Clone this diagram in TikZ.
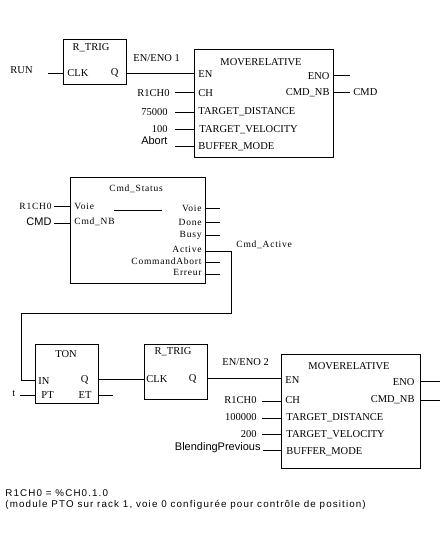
\documentclass[tikz,border=0pt]{standalone}
\usepackage{fontspec}
\setmainfont{Liberation Serif}
\newfontfamily\sansf{Liberation Sans}
\newfontfamily\smallf[LetterSpace=8]{Liberation Serif}
\newfontfamily\footf[LetterSpace=11.5]{Liberation Sans}
\begin{document}
\begin{tikzpicture}[x=1pt,y=-1pt,line width=0.9pt,
  blk/.style={draw,line width=0.9pt,anchor=north west,inner sep=0pt},
  pl/.style={font=\fontsize{10.5}{11}\selectfont,inner sep=0pt,anchor=west},
  pr/.style={font=\fontsize{10.5}{11}\selectfont,inner sep=0pt,anchor=east},
  pt/.style={font=\fontsize{10.5}{11}\selectfont,inner sep=0pt},
  sl/.style={font=\smallf\fontsize{9.5}{10}\selectfont,inner sep=0pt,anchor=west},
  sr/.style={font=\smallf\fontsize{9.5}{10}\selectfont,inner sep=0pt,anchor=east},
  sansr/.style={font=\sansf\fontsize{11}{12}\selectfont,inner sep=0pt,anchor=east},
  wire/.style={line width=0.9pt},
  foot/.style={font=\footf\fontsize{9.8}{11}\selectfont,inner sep=0pt,anchor=west}]
\useasboundingbox (0,0) rectangle (440,533);
% ---------- R_TRIG 1 ----------
\node[blk,minimum width=63pt,minimum height=45pt] (rt1) at (63,39) {};
\node[pt] (rt1t) at (91,48) {R\_TRIG};
\node[pl] (rt1clk) at (67,73) {CLK};
\node[pr] (rt1q) at (119,73) {Q};
\node[pl] (run) at (10,70) {RUN};
\coordinate (rt1in) at (63,73);
\coordinate (runend) at (48,73);
\draw[wire] (runend) -- (rt1in);
% ---------- MOVERELATIVE 1 ----------
\node[blk,minimum width=139pt,minimum height=108pt] (mr1) at (194,49) {};
\node[pt] (mr1t) at (261,62) {MOVERELATIVE};
\node[pl] (mr1en) at (198,74) {EN};
\node[pl] (mr1ch) at (198,93) {CH};
\node[pl] (mr1td) at (198,112) {TARGET\_DISTANCE};
\node[pl] (mr1tv) at (199,130) {TARGET\_VELOCITY};
\node[pl] (mr1bm) at (198,147) {BUFFER\_MODE};
\node[pr] (mr1eno) at (330,76) {ENO};
\node[pr] (mr1cmd) at (330,93) {CMD\_NB};
\coordinate (mr1a) at (194,73);
\coordinate (mr1b) at (194,92);
\coordinate (mr1c) at (194,112);
\coordinate (mr1d) at (194,129);
\coordinate (mr1e) at (194,146);
\coordinate (rt1out) at (126,73);
\draw[wire] (rt1out) -- (mr1a);
\node[pl] (en1) at (133,58) {EN/ENO 1};
\node[pr] (l1a) at (170,93) {R1CH0};
\node[pr] (l1b) at (168,112) {75000};
\node[pr] (l1c) at (168,129) {100};
\node[sansr] (l1d) at (168,141) {Abort};
\foreach \y/\c in {92/b,112/c,129/d,146/e} {\coordinate (s\c) at (175,\y); \draw[wire] (s\c) -- (mr1\c);}
\coordinate (mr1o1) at (333,75);
\coordinate (mr1o2) at (333,92);
\coordinate (e1o1) at (350,75);
\coordinate (e1o2) at (350,92);
\draw[wire] (mr1o1) -- (e1o1);
\draw[wire] (mr1o2) -- (e1o2);
\node[pl] (cmd1) at (353,92) {CMD};
% ---------- Cmd_Status ----------
\node[blk,minimum width=135pt,minimum height=106pt] (cs) at (70,177) {};
\node[sl] (cst) at (109,189) {Cmd\_Status};
\node[sl] (csv) at (74,206) {Voie};
\node[sl] (csn) at (74,222) {Cmd\_NB};
\node[sr] (cso1) at (202,208) {Voie};
\node[sr] (cso2) at (202,222) {Done};
\node[sr] (cso3) at (202,235) {Busy};
\node[sr] (cso4) at (202,249) {Active};
\node[sr] (cso5) at (202,261) {CommandAbort};
\node[sr] (cso6) at (202,272) {Erreur};
\coordinate (ia) at (114,210);
\coordinate (ib) at (162,210);
\draw[wire] (ia) -- (ib);
\node[sr] (csl1) at (52,206) {R1CH0};
\node[sansr] (csl2) at (52,222) {CMD};
\coordinate (csi1) at (54,206);
\coordinate (csi2) at (54,223);
\coordinate (csp1) at (70,206);
\coordinate (csp2) at (70,223);
\draw[wire] (csi1) -- (csp1);
\draw[wire] (csi2) -- (csp2);
\foreach \y/\n in {208/1,222/2,235/3,262/5,274/6} {\coordinate (co\n) at (205,\y); \coordinate (ce\n) at (220,\y); \draw[wire] (co\n) -- (ce\n);}
\node[sl] (cact) at (236,245) {Cmd\_Active};
% ---------- TON ----------
\node[blk,minimum width=63pt,minimum height=59pt] (ton) at (35,344) {};
\node[pt] (tont) at (66,354) {TON};
\node[pl] (tonin) at (38,381) {IN};
\node[pl] (tonpt) at (41,395) {PT};
\node[pr] (tonq) at (89,380) {Q};
\node[pr] (tonet) at (92,395) {ET};
\coordinate (act) at (205,251);
\coordinate (tonIN) at (35,380);
\draw[wire] (act) -- (231,251) -- (231,313) -- (21,313) |- (tonIN);
\node[pl] (tlab) at (12,394) {t};
\coordinate (tend) at (20,395);
\coordinate (tonPT) at (35,395);
\draw[wire] (tend) -- (tonPT);
\coordinate (tonET) at (98,395);
\coordinate (etend) at (113,395);
\draw[wire] (tonET) -- (etend);
% ---------- R_TRIG 2 ----------
\node[blk,minimum width=63pt,minimum height=55pt] (rt2) at (144,344) {};
\node[pt] (rt2t) at (173,352) {R\_TRIG};
\node[pl] (rt2clk) at (146,379) {CLK};
\node[pr] (rt2q) at (197,379) {Q};
\coordinate (tonQ) at (98,379);
\coordinate (rt2CLK) at (144,379);
\draw[wire] (tonQ) -- (rt2CLK);
% ---------- MOVERELATIVE 2 ----------
\node[blk,minimum width=139pt,minimum height=114pt] (mr2) at (281,354) {};
\node[pt] (mr2t) at (349,366) {MOVERELATIVE};
\node[pl] (mr2en) at (285,380) {EN};
\node[pl] (mr2ch) at (285,400) {CH};
\node[pl] (mr2td) at (286,418) {TARGET\_DISTANCE};
\node[pl] (mr2tv) at (286,435) {TARGET\_VELOCITY};
\node[pl] (mr2bm) at (286,452) {BUFFER\_MODE};
\node[pr] (mr2eno) at (415,382) {ENO};
\node[pr] (mr2cmd) at (415,400) {CMD\_NB};
\coordinate (rt2Q) at (207,378);
\coordinate (mr2a) at (281,378);
\draw[wire] (rt2Q) -- (mr2a);
\node[pl] (en2) at (222,362) {EN/ENO 2};
\node[pr] (l2a) at (257,400) {R1CH0};
\node[pr] (l2b) at (257,417) {100000};
\node[pr] (l2c) at (257,434) {200};
\node[sansr] (l2d) at (261,448) {BlendingPrevious};
\foreach \y/\c/\x in {401/b/262,418/c/262,434/d/262,450/e/263} {\coordinate (t\c) at (\x,\y); \coordinate (mr2\c) at (281,\y); \draw[wire] (t\c) -- (mr2\c);}
\coordinate (mr2o1) at (420,381);
\coordinate (mr2o2) at (420,400);
\coordinate (e2o1) at (440,381);
\coordinate (e2o2) at (440,400);
\draw[wire] (mr2o1) -- (e2o1);
\draw[wire] (mr2o2) -- (e2o2);
% ---------- footnote ----------
\node[foot] (f1) at (5,493) {R1CH0 = \%CH0.1.0};
\node[foot] (f2) at (5,505) {(module PTO sur rack 1, voie 0 configurée pour contrôle de position)};
\end{tikzpicture}
\end{document}
